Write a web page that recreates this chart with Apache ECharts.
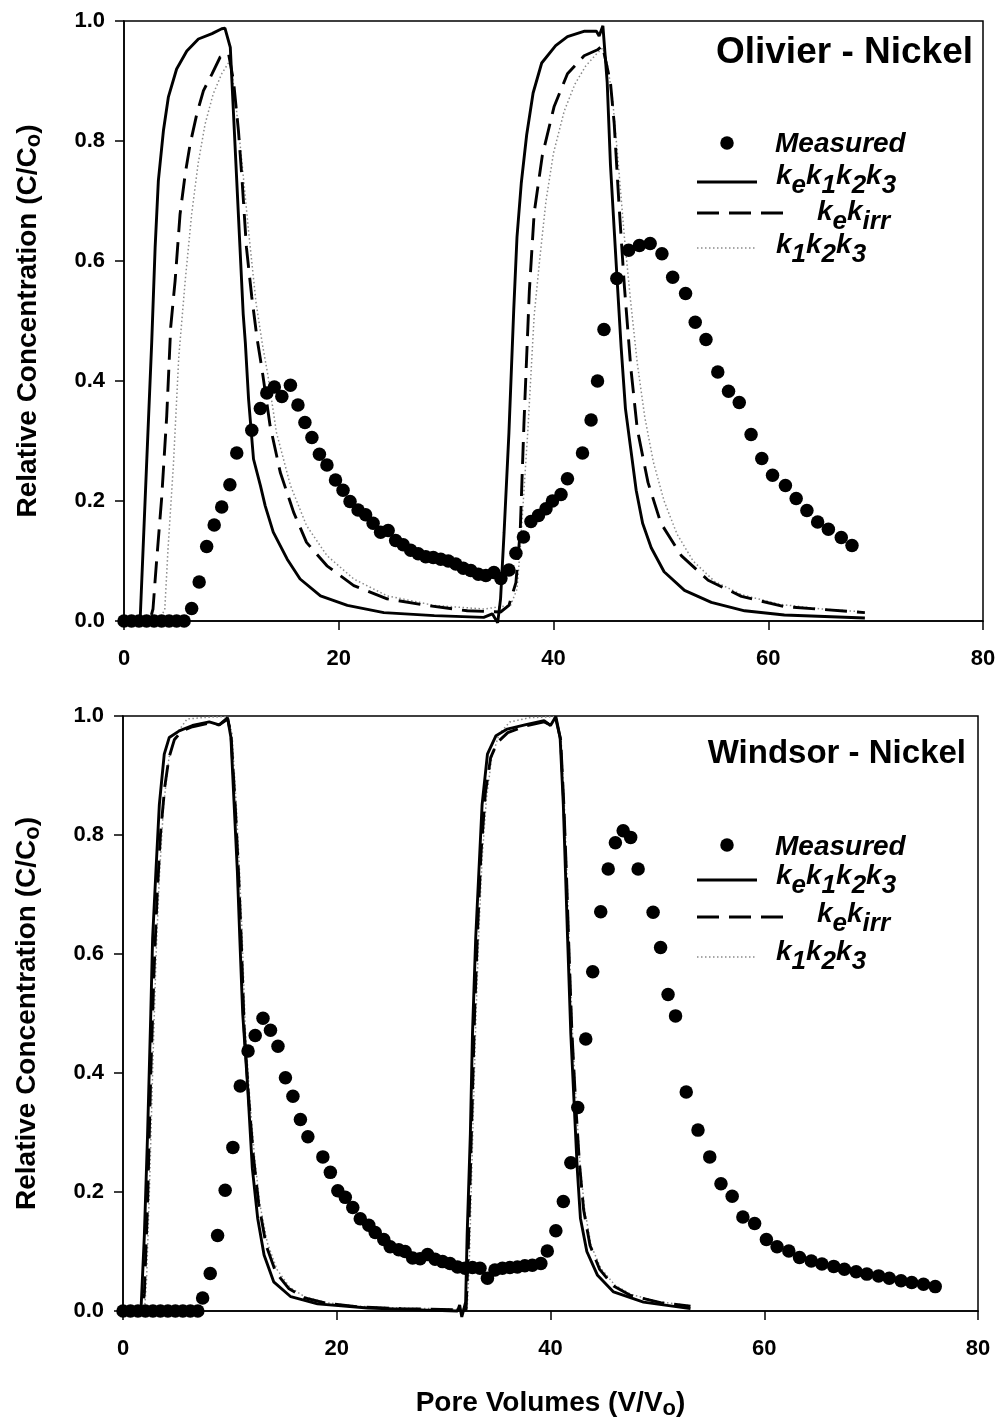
<!DOCTYPE html>
<html><head><meta charset="utf-8">
<script src="https://cdn.jsdelivr.net/npm/echarts@6/dist/echarts.min.js"></script>
<style>html,body{margin:0;padding:0;background:#fff}#c{width:1000px;height:1422px}</style>
</head><body><div id="c"></div>
<script>
// ---------- DATA ----------
const xTickValues = [0, 20, 40, 60, 80];
const yTickValues = [0, 0.2, 0.4, 0.6, 0.8, 1.0];
const panelTitles = ['Olivier - Nickel', 'Windsor - Nickel'];
const seriesNames = ['Measured', 'kek1k2k3', 'kekirr', 'k1k2k3'];

// Olivier - Nickel
const olivierMeasured = [[0,0],[0.7,0],[1.4,0],[2.1,0],[2.8,0],[3.5,0],[4.2,0],[4.9,0],[5.6,0],
[6.3,0.021],[7.0,0.065],[7.7,0.124],[8.4,0.16],[9.1,0.19],[9.86,0.227],[10.5,0.28],[11.9,0.318],[12.7,0.354],[13.3,0.38],[14.0,0.39],[14.7,0.374],[15.5,0.393],[16.2,0.36],[16.85,0.331],[17.5,0.306],[18.2,0.278],[18.9,0.26],[19.7,0.235],[20.4,0.218],[21.05,0.199],[21.8,0.185],[22.5,0.177],[23.2,0.163],[23.9,0.148],[24.6,0.151],[25.3,0.134],[26.0,0.127],[26.7,0.118],[27.4,0.112],[28.1,0.107],[28.8,0.106],[29.5,0.103],[30.2,0.1],[30.9,0.095],[31.6,0.088],[32.3,0.084],[33.0,0.078],[33.7,0.076],[34.45,0.081],[35.1,0.071],[35.85,0.085],[36.5,0.113],[37.2,0.14],[37.9,0.166],[38.6,0.176],[39.3,0.187],[39.9,0.2],[40.7,0.211],[41.3,0.237],[42.7,0.28],[43.5,0.335],[44.1,0.4],[44.7,0.486],[45.9,0.571],[47.0,0.618],[48.0,0.626],[49.0,0.629],[50.1,0.612],[51.1,0.573],[52.3,0.546],[53.2,0.498],[54.2,0.469],[55.3,0.415],[56.3,0.383],[57.3,0.364],[58.4,0.311],[59.4,0.271],[60.4,0.243],[61.6,0.226],[62.6,0.204],[63.6,0.184],[64.6,0.165],[65.6,0.153],[66.8,0.139],[67.8,0.126]];

const olivierKeK1K2K3 = [[0,0],[1.5,0],[2.1,0.259],[2.58,0.464],[2.9,0.623],[3.2,0.734],[3.67,0.817],[4.13,0.873],[4.9,0.92],[5.85,0.95],[6.93,0.97],[8.2,0.979],[9.1,0.987],[9.4,0.988],[9.9,0.956],[10.2,0.845],[10.5,0.734],[10.8,0.623],[11.1,0.512],[11.3,0.464],[11.6,0.37],[12.06,0.27],[12.7,0.226],[13.15,0.192],[13.9,0.148],[15.2,0.103],[16.4,0.07],[18.3,0.042],[20.8,0.026],[24.2,0.014],[28.9,0.009],[33.5,0.006],[34.3,0.012],[34.8,-0.003],[35.07,0.037],[35.4,0.148],[35.85,0.314],[36.3,0.52],[36.6,0.64],[37.0,0.73],[37.5,0.81],[38.1,0.88],[38.9,0.93],[40.2,0.959],[41.3,0.974],[42.9,0.983],[44.0,0.983],[44.25,0.975],[44.6,0.992],[45.0,0.898],[45.3,0.762],[45.65,0.653],[45.96,0.558],[46.3,0.456],[46.7,0.354],[47.2,0.286],[47.7,0.218],[48.3,0.163],[49.1,0.122],[50.3,0.082],[52.2,0.051],[54.7,0.031],[57.8,0.017],[61.5,0.01],[69.0,0.005]];

const olivierKeKirr = [[0,0],[2.4,0],[2.7,0.02],[3.0,0.092],[3.5,0.203],[3.98,0.342],[4.35,0.49],[4.76,0.567],[5.22,0.678],[5.7,0.745],[6.16,0.795],[6.78,0.845],[7.4,0.884],[8.2,0.912],[8.96,0.94],[9.73,0.946],[10.2,0.9],[10.66,0.817],[11.0,0.734],[11.4,0.623],[11.9,0.54],[12.4,0.47],[12.85,0.42],[13.6,0.326],[14.55,0.248],[15.8,0.181],[17.0,0.131],[18.9,0.092],[21.4,0.059],[24.5,0.037],[28.2,0.026],[31.97,0.017],[35.07,0.015],[35.85,0.026],[36.5,0.064],[36.9,0.15],[37.25,0.33],[37.75,0.55],[38.2,0.68],[38.96,0.776],[40.05,0.857],[41.3,0.912],[42.85,0.942],[44.1,0.952],[44.56,0.959],[45.3,0.898],[45.65,0.83],[46.1,0.694],[46.6,0.558],[47.2,0.422],[47.8,0.32],[48.8,0.231],[50.0,0.163],[51.9,0.109],[54.4,0.068],[57.5,0.041],[61.5,0.024],[69.0,0.014]];

const olivierK1K2K3 = [[0,0],[3.3,0],[3.8,0.02],[4.1,0.12],[4.6,0.26],[5.1,0.44],[5.7,0.567],[6.3,0.678],[6.9,0.762],[7.55,0.828],[8.3,0.878],[9.1,0.912],[9.9,0.935],[10.35,0.873],[11.0,0.762],[11.6,0.65],[12.3,0.53],[12.9,0.46],[13.4,0.41],[14.2,0.314],[15.5,0.226],[17.0,0.159],[18.9,0.109],[21.4,0.07],[24.5,0.042],[28.9,0.026],[33.5,0.02],[36.0,0.026],[36.6,0.053],[36.9,0.12],[37.6,0.314],[38.2,0.509],[38.7,0.6],[39.3,0.7],[40.0,0.78],[41.0,0.85],[42.0,0.895],[43.0,0.925],[44.0,0.945],[44.6,0.955],[45.0,0.93],[45.5,0.87],[46.0,0.77],[46.6,0.64],[47.2,0.53],[47.8,0.43],[48.5,0.34],[49.3,0.265],[50.3,0.2],[51.5,0.145],[53.0,0.1],[55.0,0.066],[57.5,0.044],[61.0,0.028],[65.0,0.02],[69.0,0.015]];

// Windsor - Nickel
const windsorMeasured = [[0,0],[0.7,0],[1.4,0],[2.1,0],[2.8,0],[3.5,0],[4.2,0],[4.9,0],[5.6,0],[6.3,0],[7.0,0],
[7.45,0.022],[8.16,0.063],[8.85,0.127],[9.56,0.203],[10.28,0.275],[10.97,0.378],[11.7,0.437],[12.37,0.463],[13.1,0.492],[13.8,0.472],[14.5,0.445],[15.2,0.392],[15.9,0.361],[16.6,0.322],[17.3,0.293],[18.7,0.259],[19.4,0.233],[20.1,0.202],[20.8,0.191],[21.5,0.174],[22.2,0.155],[23.0,0.144],[23.6,0.132],[24.4,0.12],[25.0,0.108],[25.8,0.103],[26.4,0.1],[27.1,0.089],[27.8,0.088],[28.5,0.095],[29.2,0.087],[29.9,0.083],[30.6,0.08],[31.3,0.074],[32.0,0.072],[32.7,0.073],[33.4,0.072],[34.1,0.055],[34.8,0.069],[35.5,0.072],[36.2,0.073],[36.9,0.074],[37.6,0.076],[38.3,0.077],[39.1,0.08],[39.7,0.101],[40.5,0.135],[41.2,0.184],[41.9,0.249],[42.55,0.342],[43.3,0.457],[43.95,0.57],[44.7,0.671],[45.4,0.743],[46.07,0.787],[46.8,0.807],[47.5,0.796],[48.2,0.743],[49.6,0.67],[50.3,0.611],[51.0,0.532],[51.7,0.496],[52.7,0.368],[53.8,0.304],[54.9,0.259],[55.95,0.214],[57.0,0.193],[58.0,0.158],[59.1,0.147],[60.2,0.12],[61.2,0.108],[62.3,0.101],[63.3,0.09],[64.4,0.084],[65.4,0.079],[66.5,0.075],[67.5,0.07],[68.6,0.066],[69.6,0.062],[70.7,0.059],[71.7,0.055],[72.8,0.051],[73.8,0.048],[74.9,0.045],[76.0,0.041]];

const windsorKeK1K2K3 = [[0,0],[1.68,0],[2.0,0.128],[2.3,0.297],[2.6,0.5],[2.77,0.626],[3.08,0.739],[3.4,0.851],[3.86,0.936],[4.33,0.964],[5.26,0.975],[6.5,0.984],[8.07,0.99],[9.0,0.985],[9.78,0.997],[10.1,0.964],[10.4,0.851],[10.7,0.739],[10.93,0.626],[11.2,0.5],[11.65,0.381],[12.1,0.24],[12.6,0.156],[13.2,0.094],[14.1,0.049],[15.7,0.024],[18.2,0.012],[22.9,0.005],[29.1,0.001],[31.3,0],[31.5,0.01],[31.7,-0.01],[32.06,0.015],[32.2,0.128],[32.5,0.297],[32.7,0.466],[33.0,0.626],[33.3,0.739],[33.6,0.851],[34.1,0.936],[34.9,0.967],[35.95,0.978],[37.8,0.986],[39.4,0.992],[40.0,0.984],[40.5,0.999],[40.9,0.964],[41.2,0.851],[41.4,0.739],[41.6,0.626],[41.9,0.466],[42.2,0.353],[42.5,0.24],[42.8,0.156],[43.4,0.1],[44.4,0.06],[45.9,0.032],[48.7,0.015],[53.1,0.004]];

const windsorKeKirr = [[0,0],[1.8,0],[2.0,0.03],[2.3,0.18],[2.6,0.4],[2.9,0.57],[3.2,0.7],[3.5,0.8],[3.9,0.88],[4.3,0.93],[4.8,0.96],[5.5,0.975],[6.5,0.982],[8.0,0.988],[9.0,0.985],[9.8,0.995],[10.1,0.97],[10.5,0.85],[10.8,0.74],[11.05,0.63],[11.35,0.47],[11.75,0.36],[12.2,0.26],[12.7,0.18],[13.4,0.11],[14.3,0.065],[15.5,0.038],[17.0,0.022],[19.0,0.013],[22.0,0.007],[26.0,0.004],[31.3,0.002],[32.1,0.002],[32.3,0.1],[32.6,0.3],[32.9,0.5],[33.2,0.65],[33.5,0.77],[33.9,0.87],[34.4,0.93],[35.0,0.955],[36.0,0.972],[37.8,0.984],[39.4,0.99],[40.0,0.985],[40.5,0.995],[40.95,0.96],[41.25,0.85],[41.5,0.73],[41.7,0.62],[42.0,0.47],[42.35,0.35],[42.7,0.25],[43.1,0.17],[43.7,0.11],[44.6,0.07],[45.9,0.042],[47.5,0.026],[50.3,0.014],[53.1,0.008]];

const windsorK1K2K3 = [[0,0],[2.0,0],[2.2,0.05],[2.5,0.22],[2.8,0.42],[3.1,0.6],[3.4,0.73],[3.8,0.85],[4.3,0.93],[5.0,0.97],[6.0,0.995],[8.0,0.998],[9.8,0.999],[10.2,0.97],[10.6,0.85],[10.9,0.74],[11.15,0.63],[11.45,0.47],[11.85,0.36],[12.3,0.26],[12.8,0.18],[13.5,0.115],[14.4,0.07],[15.6,0.04],[17.0,0.024],[19.0,0.014],[22.0,0.008],[26.0,0.005],[31.3,0.003],[32.2,0.003],[32.4,0.08],[32.7,0.28],[33.0,0.48],[33.3,0.64],[33.6,0.76],[34.0,0.86],[34.5,0.93],[35.2,0.97],[36.2,0.99],[38.0,0.997],[40.5,0.999],[41.0,0.96],[41.3,0.85],[41.55,0.73],[41.75,0.62],[42.05,0.47],[42.4,0.35],[42.75,0.25],[43.2,0.17],[43.8,0.11],[44.7,0.072],[46.0,0.044],[47.5,0.028],[50.3,0.015],[53.1,0.009]];

// ---------- CHART ----------
const FF = '"Liberation Sans", Arial, Helvetica, sans-serif';
const chart = echarts.init(document.getElementById('c'), null, {renderer: 'canvas'});

const TITLE_N = {fontSize: 28, fontWeight: 'bold', color: '#000', fontFamily: FF, lineHeight: 32};
const TITLE_S = {fontSize: 22, fontWeight: 'bold', color: '#000', fontFamily: FF, lineHeight: 32, padding: [11, 0, 0, 0]};

function xAxisCfg(gi, withName) {
  const a = {
    type: 'value', gridIndex: gi, min: xTickValues[0], max: xTickValues[xTickValues.length - 1],
    interval: xTickValues[1] - xTickValues[0],
    axisLine: {show: true, onZero: false, lineStyle: {color: '#000', width: 1.5}},
    axisTick: {show: true, length: 9, lineStyle: {color: '#000', width: 1.5}},
    axisLabel: {fontSize: 22, fontWeight: 'bold', color: '#000', margin: 27, fontFamily: FF},
    splitLine: {show: false}
  };
  if (withName) {
    a.name = '{n|Pore Volumes (V/V}{s|o}{n|)}';
    a.nameLocation = 'middle';
    a.nameGap = 76;
    a.nameTextStyle = {rich: {n: TITLE_N, s: TITLE_S}};
  }
  return a;
}
function yAxisCfg(gi) {
  return {
    type: 'value', gridIndex: gi, min: yTickValues[0], max: yTickValues[yTickValues.length - 1],
    interval: yTickValues[1] - yTickValues[0],
    axisLine: {show: true, lineStyle: {color: '#000', width: 1.5}},
    axisTick: {show: true, length: 9, lineStyle: {color: '#000', width: 1.5}},
    axisLabel: {fontSize: 22, fontWeight: 'bold', color: '#000', margin: 19, fontFamily: FF,
      formatter: v => v.toFixed(1)},
    splitLine: {show: false},
    name: '{n|Relative Concentration (C/C}{s|o}{n|)}',
    nameLocation: 'middle', nameRotate: 90, nameGap: 80,
    nameTextStyle: {rich: {n: TITLE_N, s: TITLE_S}}
  };
}

function panelSeries(i, meas, solid, dashed, dotted) {
  return [
    {type: 'line', name: seriesNames[3], xAxisIndex: i, yAxisIndex: i, data: dotted, showSymbol: false,
      lineStyle: {color: '#8a8a8a', width: 1.5, type: [1.5, 2.5]}, z: 2, clip: false},
    {type: 'line', name: seriesNames[2], xAxisIndex: i, yAxisIndex: i, data: dashed, showSymbol: false,
      lineStyle: {color: '#000', width: 2.9, type: [22, 10]}, z: 3, clip: false},
    {type: 'line', name: seriesNames[1], xAxisIndex: i, yAxisIndex: i, data: solid, showSymbol: false,
      lineStyle: {color: '#000', width: 2.9}, z: 4, clip: false},
    {type: 'scatter', name: seriesNames[0], xAxisIndex: i, yAxisIndex: i, data: meas, symbol: 'circle',
      symbolSize: 13.5, itemStyle: {color: '#000', opacity: 1}, z: 5, clip: false}
  ];
}

const LM = {fontSize: 28, fontWeight: 'bold', fontStyle: 'italic', fontFamily: FF, fill: '#000', lineHeight: 34};
const LS = {fontSize: 26, fontWeight: 'bold', fontStyle: 'italic', fontFamily: FF, fill: '#000', lineHeight: 34, padding: [20, 0, 0, 0]};
function ltext(x, y, txt) {
  return {type: 'text', x: x, y: y, z: 10, style: {text: txt, align: 'left', verticalAlign: 'middle', fill: '#000',
    rich: {m: LM, s: LS}}};
}
function legendGroup(o) {
  return [
    {type: 'circle', z: 10, shape: {cx: 727, cy: o.dot, r: 6.75}, style: {fill: '#000'}},
    ltext(775, o.meas, '{m|' + seriesNames[0] + '}'),
    {type: 'line', z: 10, shape: {x1: 697, y1: o.solid, x2: 757, y2: o.solid}, style: {stroke: '#000', lineWidth: 2.9}},
    ltext(776, o.t1, '{m|k}{s|e}{m|k}{s|1}{m|k}{s|2}{m|k}{s|3}'),
    {type: 'line', z: 10, shape: {x1: 697, y1: o.dash, x2: 788, y2: o.dash}, style: {stroke: '#000', lineWidth: 2.9, lineDash: [22, 10]}},
    ltext(817, o.t2, '{m|k}{s|e}{m|k}{s|irr}'),
    {type: 'line', z: 10, shape: {x1: 697, y1: o.dot2, x2: 757, y2: o.dot2}, style: {stroke: '#8a8a8a', lineWidth: 1.5, lineDash: [1.5, 2.5]}},
    ltext(776, o.t3, '{m|k}{s|1}{m|k}{s|2}{m|k}{s|3}')
  ];
}

const option = {
  animation: false,
  backgroundColor: '#fff',
  grid: [
    {left: 124, top: 21, width: 859, height: 600, show: true, borderColor: '#000', borderWidth: 1.5, backgroundColor: 'transparent'},
    {left: 123, top: 716, width: 855, height: 595, show: true, borderColor: '#000', borderWidth: 1.5, backgroundColor: 'transparent'}
  ],
  xAxis: [xAxisCfg(0, false), xAxisCfg(1, true)],
  yAxis: [yAxisCfg(0), yAxisCfg(1)],
  series: [].concat(
    panelSeries(0, olivierMeasured, olivierKeK1K2K3, olivierKeKirr, olivierK1K2K3),
    panelSeries(1, windsorMeasured, windsorKeK1K2K3, windsorKeKirr, windsorK1K2K3)
  ),
  graphic: [].concat(
    [{type: 'text', x: 973, y: 53, z: 10, style: {text: panelTitles[0], align: 'right', verticalAlign: 'middle',
      fontSize: 37, fontWeight: 'bold', fontFamily: FF, fill: '#000'}},
     {type: 'text', x: 966, y: 754, z: 10, style: {text: panelTitles[1], align: 'right', verticalAlign: 'middle',
      fontSize: 33, fontWeight: 'bold', fontFamily: FF, fill: '#000'}}],
    legendGroup({dot: 143, meas: 144, solid: 182, t1: 176, dash: 213, t2: 212, dot2: 248, t3: 245}),
    legendGroup({dot: 845, meas: 847, solid: 880, t1: 876, dash: 917, t2: 914, dot2: 957, t3: 952})
  )
};
chart.setOption(option);
</script>
</body></html>
